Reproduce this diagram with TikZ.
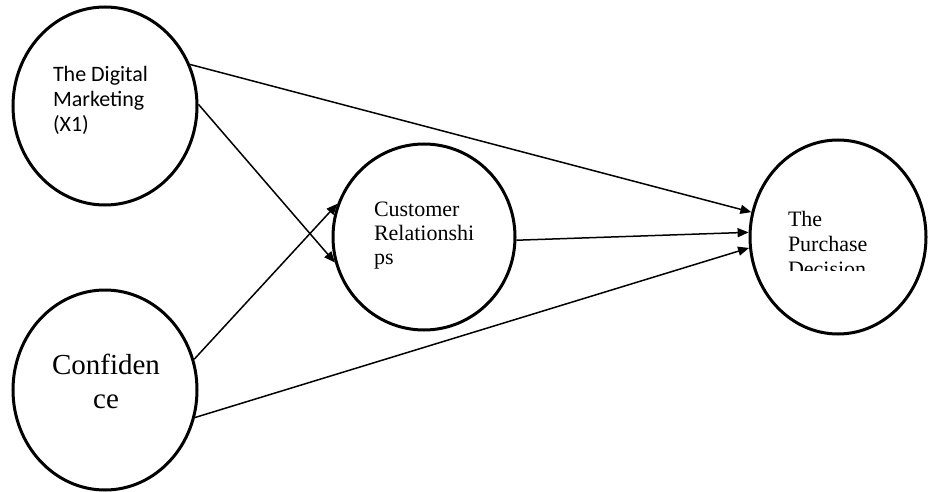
\documentclass[tikz,border=0pt]{standalone}
\usepackage{fontspec}
\setmainfont{Liberation Serif}
\newfontfamily\calfont{Carlito}
\usetikzlibrary{shapes.geometric,arrows.meta}
\begin{document}
\begin{tikzpicture}[x=1pt,y=-1pt,
  circ/.style={draw,ellipse,line width=3pt,inner sep=0pt},
  lbl/.style={inner sep=0pt,outer sep=0pt,align=left},
  conn/.style={line width=1.5pt,-{Triangle[length=11pt,width=9pt]}}]
\useasboundingbox (0,0) rectangle (929,492);
\node[circ,minimum width=184pt,minimum height=198pt] (dm) at (105,106) {};
\node[circ,minimum width=184pt,minimum height=200pt] (cf) at (105,390) {};
\node[circ,minimum width=182pt,minimum height=186pt] (cr) at (424,237) {};
\node[circ,minimum width=176pt,minimum height=194pt] (pd) at (838,237) {};
\node[lbl,anchor=north west,font=\calfont\fontsize{22}{25}\selectfont] (dmt) at (53,66) {The Digital\\Marketing\\(X1)};
\node[lbl,align=center,anchor=north,font=\fontsize{29}{34}\selectfont] (cft) at (106,354) {Confiden\\ce};
\node[lbl,anchor=north west,font=\fontsize{22}{24}\selectfont] (crt) at (374,202) {Customer\\Relationshi\\ps};
\begin{scope}
\clip (760,180) rectangle (900,270);
\node[lbl,anchor=north west,font=\fontsize{22}{25}\selectfont] (pdt) at (788,211) {The\\Purchase\\Decision};
\end{scope}
\draw[conn] (dm.26) -- (pd.164);
\draw[conn] (dm.1) -- (cr.196);
\draw[conn] (cf.19) -- (cr.159);
\draw[conn] (cf.343) -- (pd.187);
\draw[conn] (cr.358) -- (pd.177);
\end{tikzpicture}
\end{document}
